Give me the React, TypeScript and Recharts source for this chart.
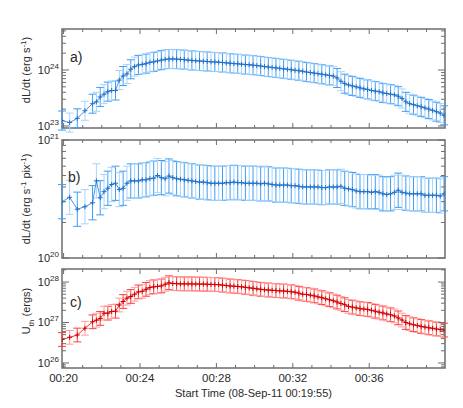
import React from "react";
import { ScatterChart, Scatter, XAxis, YAxis, ErrorBar, ReferenceArea, Label } from "recharts";

// seconds after 00:19:55
const times = [
  0, 24, 48, 72, 96, 108, 120, 132, 144, 156,
  168, 180, 192, 204, 216, 228, 240, 252, 264, 276,
  288, 300, 312, 324, 336, 348, 360, 372, 384, 396,
  408, 420, 432, 444, 456, 468, 480, 492, 504, 516,
  528, 540, 552, 564, 576, 588, 600, 612, 624, 636,
  648, 660, 672, 684, 696, 708, 720, 732, 744, 756,
  768, 780, 792, 804, 816, 828, 840, 852, 864, 876,
  888, 900, 912, 924, 936, 948, 960, 972, 984, 996,
  1008, 1020, 1032, 1044, 1056, 1068, 1080, 1092, 1104, 1116,
  1128, 1140, 1152, 1164, 1176, 1188, 1200,
];

// a) dL/dt (erg s^-1)
const dLdt = [
  1.25e23, 1.15e23, 1.37e23, 1.87e23, 2.5e23, 2.7e23, 3.3e23, 3.7e23, 4.1e23, 4.3e23,
  4.3e23, 6.6e23, 7.8e23, 8.5e23, 1.03e24, 1.15e24, 1.23e24, 1.26e24, 1.3e24, 1.37e24,
  1.4e24, 1.45e24, 1.5e24, 1.55e24, 1.57e24, 1.58e24, 1.56e24, 1.55e24, 1.53e24, 1.5e24,
  1.48e24, 1.46e24, 1.45e24, 1.43e24, 1.42e24, 1.4e24, 1.39e24, 1.38e24, 1.36e24, 1.34e24,
  1.32e24, 1.3e24, 1.29e24, 1.27e24, 1.25e24, 1.24e24, 1.22e24, 1.2e24, 1.18e24, 1.15e24,
  1.13e24, 1.11e24, 1.09e24, 1.07e24, 1.05e24, 1.03e24, 1.01e24, 9.9e23, 9.7e23, 9.5e23,
  9.2e23, 9.0e23, 8.8e23, 8.6e23, 8.4e23, 8.2e23, 8.0e23, 7.8e23, 7.2e23, 6.3e23,
  5.7e23, 5.4e23, 5.2e23, 5.0e23, 4.8e23, 4.6e23, 4.5e23, 4.3e23, 4.2e23, 4.1e23,
  3.9e23, 3.8e23, 3.7e23, 3.6e23, 3.4e23, 3.1e23, 2.7e23, 2.5e23, 2.4e23, 2.3e23,
  2.2e23, 2.1e23, 2.0e23, 1.9e23, 1.8e23, 1.7e23, 1.55e23,
];

// b) dL/dt (erg s^-1 pix^-1)
const dLdtPix = [
  3.0e20, 3.27e20, 2.59e20, 2.72e20, 2.94e20, 4.5e20, 3.24e20, 3.65e20, 3.9e20, 4.2e20,
  4.3e20, 3.8e20, 3.9e20, 4.3e20, 4.5e20, 4.5e20, 4.5e20, 4.6e20, 4.6e20, 4.7e20,
  4.75e20, 5.0e20, 4.8e20, 4.7e20, 4.95e20, 4.8e20, 4.7e20, 4.65e20, 4.6e20, 4.55e20,
  4.5e20, 4.45e20, 4.4e20, 4.4e20, 4.35e20, 4.3e20, 4.3e20, 4.3e20, 4.3e20, 4.35e20,
  4.35e20, 4.4e20, 4.35e20, 4.35e20, 4.3e20, 4.3e20, 4.3e20, 4.3e20, 4.25e20, 4.3e20,
  4.25e20, 4.2e20, 4.15e20, 4.15e20, 4.15e20, 4.15e20, 4.1e20, 4.1e20, 4.05e20, 4.0e20,
  4.0e20, 4.0e20, 4.0e20, 4.0e20, 3.95e20, 3.95e20, 4.0e20, 4.0e20, 4.0e20, 4.05e20,
  3.9e20, 3.85e20, 3.8e20, 3.7e20, 3.65e20, 3.65e20, 3.65e20, 3.6e20, 3.65e20, 3.6e20,
  3.5e20, 3.45e20, 3.5e20, 3.6e20, 3.75e20, 3.6e20, 3.55e20, 3.5e20, 3.5e20, 3.5e20,
  3.5e20, 3.4e20, 3.4e20, 3.4e20, 3.4e20, 3.35e20, 3.5e20,
];

// c) U_th (ergs)
const uTh = [
  3.8e26, 4.3e26, 4.9e26, 7.2e26, 1.04e27, 1.14e27, 1.26e27, 1.7e27, 1.7e27, 1.87e27,
  1.9e27, 2.7e27, 3.3e27, 4.0e27, 4.4e27, 5.0e27, 5.7e27, 5.9e27, 6.6e27, 7.3e27,
  7.6e27, 7.8e27, 8.0e27, 8.8e27, 9.6e27, 9.2e27, 9.1e27, 9.0e27, 9.0e27, 9.0e27,
  9.0e27, 8.95e27, 8.9e27, 8.9e27, 8.8e27, 8.75e27, 8.7e27, 8.6e27, 8.4e27, 8.2e27,
  8.0e27, 7.9e27, 7.75e27, 7.6e27, 7.4e27, 7.2e27, 7.0e27, 6.8e27, 6.6e27, 6.45e27,
  6.35e27, 6.25e27, 6.15e27, 6.05e27, 6.0e27, 5.9e27, 5.75e27, 5.6e27, 5.3e27, 5.0e27,
  4.9e27, 4.75e27, 4.55e27, 4.3e27, 4.1e27, 3.85e27, 3.65e27, 3.45e27, 3.2e27, 2.95e27,
  2.75e27, 2.5e27, 2.4e27, 2.3e27, 2.2e27, 2.15e27, 2.1e27, 2.0e27, 1.9e27, 1.8e27,
  1.72e27, 1.62e27, 1.55e27, 1.45e27, 1.3e27, 1.15e27, 1.0e27, 9.3e26, 8.8e26, 8.4e26,
  8.0e26, 7.7e26, 7.4e26, 7.2e26, 6.9e26, 6.7e26, 6.5e26,
];

const xDomain: [number, number] = [0, 1203];
const xMajorTicks = [5, 245, 485, 725, 965];
const xTickLabels = ["00:20", "00:24", "00:28", "00:32", "00:36"];
const xAllTicks = [
  5, 65, 125, 185, 245, 305, 365, 425, 485, 545,
  605, 665, 725, 785, 845, 905, 965, 1025, 1085, 1145,
];

const aTicks = [1e23, 2e23, 3e23, 4e23, 5e23, 6e23, 7e23, 8e23, 9e23, 1e24, 2e24, 3e24, 4e24, 5e24];
const bTicks = [1e20, 2e20, 3e20, 4e20, 5e20, 6e20, 7e20, 8e20, 9e20, 1e21];
const cTicks = [
  8e25, 9e25, 1e26, 2e26, 3e26, 4e26, 5e26, 6e26, 7e26, 8e26, 9e26,
  1e27, 2e27, 3e27, 4e27, 5e27, 6e27, 7e27, 8e27, 9e27, 1e28, 2e28,
];
const majors = [1e20, 1e21, 1e23, 1e24, 1e26, 1e27, 1e28];

const FONT = '"Liberation Sans", Arial, sans-serif';
const AXIS = "#6e6e6e";
const TEXT = "#2a2a2a";
const LEFT = 62;
const RIGHT = 445;
const W = 463;
const H = 408;

type PanelProps = {
  values: number[];
  errDex: number;
  top: number;
  bottom: number;
  domain: [number, number];
  yTicks: number[];
  barColors: [string, string];
  lineColor: string;
  plusColor: string;
  yLabel: React.ReactNode;
  yLabelY: number;
  tag: string;
  tagY: number;
  tagX: number;
  showXLabels: boolean;
};

const sup = (s: string, after: string) => (
  <>
    <tspan dy={-4} fontSize={8}>{s}</tspan>
    <tspan dy={4}>{after}</tspan>
  </>
);

function Panel(p: PanelProps) {
  const f = Math.pow(10, p.errDex);
  const rows = times.map((t, i) => {
    const v = p.values[i];
    return { t, v, err: [v - v / f, v * f - v] };
  });
  const even = rows.filter((_, i) => i % 2 === 0);
  const odd = rows.filter((_, i) => i % 2 === 1);

  const xTick = (props: any) => {
    const x = props.payload.coordinate;
    const idx = xMajorTicks.indexOf(props.payload.value);
    const len = idx >= 0 ? 5 : 3;
    return (
      <g key={`xt-${props.index}`}>
        <line x1={x} x2={x} y1={p.bottom} y2={p.bottom - len} stroke={AXIS} />
        <line x1={x} x2={x} y1={p.top} y2={p.top + len} stroke={AXIS} />
        {p.showXLabels && idx >= 0 && (
          <text x={x} y={p.bottom + 14} textAnchor="middle" fontFamily={FONT} fontSize={11.5} fill={TEXT}>
            {xTickLabels[idx]}
          </text>
        )}
      </g>
    );
  };

  const yTick = (props: any) => {
    const y = props.payload.coordinate;
    const v = props.payload.value;
    const major = majors.some((m) => Math.abs(m - v) / m < 1e-6);
    const len = major ? 7 : 4;
    return (
      <g key={`yt-${props.index}`}>
        <line x1={LEFT} x2={LEFT + len} y1={y} y2={y} stroke={AXIS} />
        <line x1={RIGHT - len} x2={RIGHT} y1={y} y2={y} stroke={AXIS} />
        {major && (
          <text x={LEFT - 3} y={y + 4} textAnchor="end" fontFamily={FONT} fontSize={11} fill={TEXT}>
            <tspan>10</tspan>
            <tspan dy={-5} fontSize={8}>{String(Math.round(Math.log10(v)))}</tspan>
          </text>
        )}
      </g>
    );
  };

  const plus = (props: any) => (
    <path
      d={`M${props.cx - 2.5},${props.cy}h5M${props.cx},${props.cy - 2.5}v5`}
      stroke={p.plusColor}
      strokeWidth={1}
      fill="none"
    />
  );
  const none = () => <g />;

  return (
    <div style={{ position: "absolute", left: 0, top: 0 }}>
      <ScatterChart
        width={W}
        height={H}
        margin={{ top: p.top, bottom: H - p.bottom - 30, left: 12, right: W - RIGHT }}
      >
        <XAxis
          dataKey="t"
          type="number"
          domain={xDomain}
          allowDataOverflow
          ticks={xAllTicks}
          interval={0}
          tick={xTick}
          tickLine={false}
          tickSize={0}
          tickMargin={0}
          axisLine={false}
          height={30}
        >
          {p.showXLabels && (
            <Label
              content={() => (
                <text x={(LEFT + RIGHT) / 2} y={p.bottom + 29} textAnchor="middle" fontFamily={FONT} fontSize={11} fill={TEXT}>
                  Start Time (08-Sep-11 00:19:55)
                </text>
              )}
            />
          )}
        </XAxis>
        <YAxis
          dataKey="v"
          type="number"
          scale="log"
          domain={p.domain}
          allowDataOverflow
          ticks={p.yTicks}
          interval={0}
          tick={yTick}
          tickLine={false}
          tickSize={0}
          tickMargin={0}
          axisLine={false}
          width={50}
        >
          <Label
            content={() => (
              <g>
                <text
                  transform={`translate(30,${p.yLabelY}) rotate(-90)`}
                  textAnchor="middle"
                  fontFamily={FONT}
                  fontSize={11}
                  fill={TEXT}
                >
                  {p.yLabel}
                </text>
                <text x={p.tagX} y={p.tagY} fontFamily={FONT} fontSize={14} fill={TEXT}>
                  {p.tag}
                </text>
              </g>
            )}
          />
        </YAxis>
        <Scatter data={even} dataKey="v" shape={none} isAnimationActive={false}>
          <ErrorBar dataKey="err" direction="y" width={4} stroke={p.barColors[0]} strokeWidth={1} />
        </Scatter>
        <Scatter data={odd} dataKey="v" shape={none} isAnimationActive={false}>
          <ErrorBar dataKey="err" direction="y" width={4} stroke={p.barColors[1]} strokeWidth={1} />
        </Scatter>
        <Scatter
          data={rows}
          dataKey="v"
          shape={plus}
          line={{ stroke: p.lineColor, strokeWidth: 1 }}
          isAnimationActive={false}
        />
        <ReferenceArea
          x1={xDomain[0]}
          x2={xDomain[1]}
          y1={p.domain[0]}
          y2={p.domain[1]}
          fill="none"
          stroke={AXIS}
          strokeWidth={1.5}
          ifOverflow="visible"
        />
      </ScatterChart>
    </div>
  );
}

export default function App() {
  return (
    <div style={{ position: "absolute", left: 0, top: 0, width: W, height: H, background: "#fff" }}>
      <Panel
        values={dLdt}
        errDex={0.17}
        top={29}
        bottom={128}
        domain={[9.2e22, 5.4e24]}
        yTicks={aTicks}
        barColors={["#3d9df5", "#a9d3fb"]}
        lineColor="#4a95e0"
        plusColor="#1f6fc8"
        yLabel={<>dL/dt (erg s{sup("-1", ")")}</>}
        yLabelY={70}
        tag="a)"
        tagX={70}
        tagY={62}
        showXLabels={false}
      />
      <Panel
        values={dLdtPix}
        errDex={0.145}
        top={140}
        bottom={258}
        domain={[1e20, 1e21]}
        yTicks={bTicks}
        barColors={["#3d9df5", "#a9d3fb"]}
        lineColor="#4a95e0"
        plusColor="#1f6fc8"
        yLabel={<>dL/dt (erg s{sup("-1", "  pix")}{sup("-1", ")")}</>}
        yLabelY={199}
        tag="b)"
        tagX={68}
        tagY={182}
        showXLabels={false}
      />
      <Panel
        values={uTh}
        errDex={0.17}
        top={269}
        bottom={368}
        domain={[7.5e25, 2.1e28]}
        yTicks={cTicks}
        barColors={["#ff3b3b", "#ff9e9e"]}
        lineColor="#ff3030"
        plusColor="#d00000"
        yLabel={
          <>
            U<tspan dy={4} fontSize={8}>th</tspan>
            <tspan dy={-4}> (ergs)</tspan>
          </>
        }
        yLabelY={311}
        tag="c)"
        tagX={70}
        tagY={307}
        showXLabels={true}
      />
    </div>
  );
}
